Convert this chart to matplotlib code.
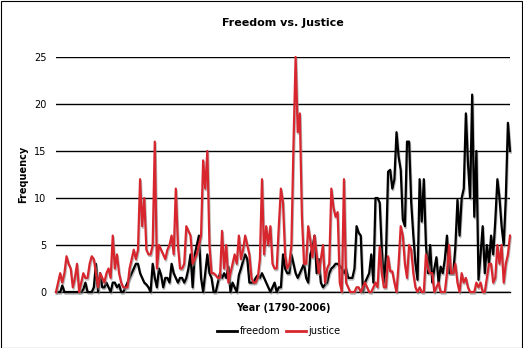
import numpy as np
import matplotlib
matplotlib.use("Agg")
import matplotlib.pyplot as plt
import matplotlib.patheffects as pe
from matplotlib.patches import Rectangle


# yearly word counts, 1790-2006
years = np.arange(1790, 2007)

freedom = [
    0, 0, 0, 0.7, 0, 0, 0, 0, 0, 0,            # 1790s
    0, 0, 0, 0.3, 1, 0, 0, 0, 0.5, 3,          # 1800s
    0, 2, 0.5, 0.5, 1, 0.5, 0, 1, 1, 0.5,      # 1810s
    0.8, 0, 0, 0.5, 1, 1.5, 2, 2.5, 3, 3,      # 1820s
    2, 1.5, 1, 0.8, 0.5, 0, 3, 1.5, 0.5, 2.5,  # 1830s
    1.8, 0.5, 1.5, 1.5, 1, 3, 2, 1.5, 1, 1.5,  # 1840s
    1.5, 1, 1.5, 2.5, 4, 0.5, 4, 5, 6, 1.5,    # 1850s
    0, 2, 4, 2, 1.5, 0, 0, 1, 2, 1.5,          # 1860s
    2, 1.5, 2.7, 0, 1, 0.5, 0, 1.8, 2.5, 3.3,  # 1870s
    4, 3.5, 1, 1, 1, 1.5, 1.8, 1.5, 2, 1.5,    # 1880s
    1, 0.5, 0, 0.5, 1, 0, 0.5, 0.5, 4, 2.5,    # 1890s
    2, 2, 4, 3, 2, 1.5, 2, 2.5, 3, 1.5,        # 1900s
    1, 4, 4.7, 6, 2, 3.5, 1, 0.5, 0.8, 1,      # 1910s
    2, 2.5, 2.7, 3, 3, 2.8, 2.5, 2, 2.5, 1.5,  # 1920s
    1.5, 1.5, 2.5, 7, 6.3, 6, 0, 1, 1.5, 2,    # 1930s
    4, 1, 10, 10, 9.5, 4.5, 1, 4, 12.8, 13,    # 1940s
    11, 12, 17, 14.4, 13, 7.7, 7, 16, 16, 9.5, # 1950s
    6, 3, 1.3, 12, 7.5, 12, 5, 2, 5, 1,        # 1960s
    2.5, 3.7, 1, 2.7, 2, 3.5, 6, 2, 2, 2,      # 1970s
    4.8, 9.8, 6, 10, 11, 19, 13.7, 10, 21, 8,  # 1980s
    15, 1.3, 4, 7, 2, 5, 3, 6, 4, 7.6,         # 1990s
    12, 10, 7, 5, 10, 18, 15,                  # 2000-2006
]

justice = [
    0, 1, 2, 1, 2, 3.8, 3, 2.5, 0.5, 1.5,      # 1790s
    3, 0, 1, 2, 1.5, 1.5, 3, 3.8, 3.5, 2,      # 1800s
    0.5, 2, 1.5, 1, 2, 2.5, 1.5, 6, 2.5, 4,    # 1810s
    2, 1, 0.5, 0.5, 0.5, 2.5, 3.5, 4.5, 3.5, 4.5,  # 1820s
    12, 7, 10, 4.5, 4, 4, 5, 16, 2.5, 5,       # 1830s
    4.5, 4, 3.5, 4.5, 5, 6, 4, 11, 5, 2.5,     # 1840s
    2.5, 3, 7, 6.5, 6, 3, 3.5, 4, 5, 6,        # 1850s
    14, 11, 15, 5, 2, 2, 1.8, 1.5, 1.5, 6.5,   # 1860s
    2.5, 5, 1, 2, 3, 4, 3, 6, 3.5, 4.5,        # 1870s
    6, 5, 4, 1.5, 1, 1, 1.5, 3.5, 12, 4,       # 1880s
    7, 5, 7, 3, 2.5, 2.5, 7, 11, 9.5, 4,       # 1890s
    2.5, 3, 5, 15.8, 25, 17, 19, 8, 3, 3,      # 1900s
    7, 5.5, 3.7, 6, 4, 2, 3.5, 5, 1, 2.5,      # 1910s
    3, 11, 9, 8, 8.5, 1, 0, 12, 1, 0.5,        # 1920s
    0, 0, 0, 0.5, 0.5, 0, 0.5, 1, 0.5, 0,      # 1930s
    0, 0.5, 1, 0.5, 4.8, 2, 0.5, 0.5, 3.8, 2.2,  # 1940s
    2.2, 1, 0, 3, 7, 6, 3, 1.5, 5, 4.5,        # 1950s
    2, 0.5, 0, 0.5, 0, 0, 4, 2.5, 2, 2,        # 1960s
    0, 0.5, 1, 0, 0, 0, 2, 5, 2, 2,            # 1970s
    3, 1, 0, 2, 1, 1.5, 0.5, 0, 0, 0,          # 1980s
    1, 0.5, 1, 0, 0, 1.5, 3, 3, 1, 1.5,        # 1990s
    5, 3, 5, 1, 3, 4, 6,                       # 2000-2006
]

RED = "#d8262f"

fig = plt.figure(figsize=(5.23, 3.48), dpi=100)
ax = fig.add_axes([56 / 523, 56 / 348, 454 / 523, 235 / 348])

shadow = [pe.SimpleLineShadow(offset=(0.6, -1.2), shadow_color="0.55", alpha=0.6), pe.Normal()]
ax.plot(years, freedom, color="black", lw=1.6, label="freedom",
        path_effects=shadow, clip_on=False, zorder=3)
ax.plot(years, justice, color=RED, lw=1.6, label="justice",
        path_effects=shadow, clip_on=False, zorder=4)

ax.set_xlim(1790, 2006)
ax.set_ylim(0, 25)
ax.set_yticks(range(0, 26, 5))
ax.set_xticks([])
ax.tick_params(axis="y", length=0, labelsize=7, pad=7)
ax.yaxis.grid(True, color="black", lw=1)
ax.set_axisbelow(True)
for side in ("top", "right", "left"):
    ax.spines[side].set_visible(False)
ax.spines["bottom"].set_linewidth(1)

ax.set_title("Freedom vs. Justice", fontsize=8, fontweight="bold", pad=22)
ax.set_ylabel("Frequency", fontsize=7, fontweight="bold", labelpad=4)
ax.set_xlabel("Year (1790-2006)", fontsize=7, fontweight="bold", labelpad=8)

leg = fig.legend(loc="center", bbox_to_anchor=(279 / 523, 1 - 331 / 348), ncol=2,
                 frameon=False, fontsize=7, handlelength=2.0, handletextpad=0.3,
                 columnspacing=0.6)
for line in leg.get_lines():
    line.set_linewidth(2)
    line.set_path_effects([])

# thin frame around the whole figure
fig.patches.append(Rectangle((0.5 / 523, 0.5 / 348), 521.5 / 523, 346.5 / 348,
                             transform=fig.transFigure, fill=False,
                             edgecolor="black", lw=0.8))

fig.savefig("out.png", dpi=100)
